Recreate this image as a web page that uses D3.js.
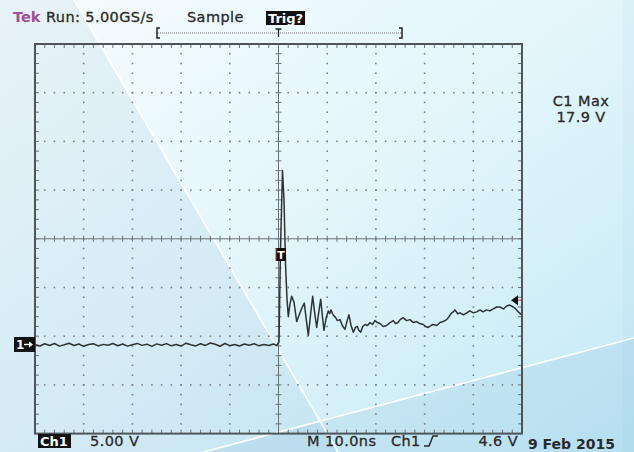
<!DOCTYPE html>
<html lang="en">
<head>
<meta charset="utf-8">
<title>Tek scope capture</title>
<script src="https://cdn.jsdelivr.net/npm/d3@7"></script>
<style>
  body { margin: 0; background: #eef9fc; }
  text { font-family: "DejaVu Sans", sans-serif; fill: #2a2a2a; }
  .hdr { font-size: 14.5px; letter-spacing: 0.4px; stroke: #2a2a2a; stroke-width: 0.3px; }
  .inv { fill: #fff; font-weight: bold; }
</style>
</head>
<body>
<svg id="scope" width="634" height="452"></svg>
<script>
// settings shown on screen
var voltsPerDiv = 5;
var nsPerDiv = 10;
var groundDiv = -2.18;     // ground marker, divisions from centre
var trigLevel = 4.6;       // V
var maxLabel = 17.9;       // V

// ch1 trace before the trigger [ns, V]
var baseline = [[-50,0.05],[-49,-0.1],[-48,0.12],[-47,-0.05],[-46,0.15],[-45,-0.12],[-44,0.02],[-43,0.18],
  [-42,-0.06],[-41,0.1],[-40,-0.14],[-39,0.04],[-38,0.13],[-37,-0.1],[-36,0.06],[-35,-0.03],[-34,0.15],
  [-33,-0.08],[-32,0.1],[-31,-0.12],[-30,0.03],[-29,0.16],[-28,-0.04],[-27,0.08],[-26,-0.15],[-25,0.11],
  [-24,-0.02],[-23,0.14],[-22,-0.09],[-21,0.05],[-20,-0.11],[-19,0.18],[-18,0.02],[-17,-0.1],[-16,0.13],
  [-15,-0.05],[-14,0.2],[-13,0.08],[-12,-0.13],[-11,0.15],[-10,-0.07],[-9,0.04],[-8,-0.11],[-7,0.1],
  [-6,-0.03],[-5,0.12],[-4,-0.09],[-3,0.05],[-2,-0.06],[-1,0.1],[-0.4,-0.05]];

// ch1 trace after the trigger [ns, V]
var pulse = [[0.1,0.3],[0.41,9.8],[0.82,17.9],[1.13,14.9],[1.44,8.3],[1.75,4.7],[2.01,2.9],[2.35,4.2],
  [2.71,5.0],[3.18,4.4],[3.74,2.4],[4.41,3.3],[4.9,3.9],[5.3,4.3],[5.7,2.6],[6.12,1.0],[6.6,3.2],[7.02,5.0],
  [7.4,3.4],[7.84,1.8],[8.25,3.3],[8.66,4.7],[9.0,3.0],[9.34,1.5],[9.8,2.8],[10.22,3.5],[10.5,3.2],
  [10.78,3.6],[11.2,3.1],[11.6,2.9],[12.1,2.5],[12.63,2.6],[13.1,2.0],[13.65,1.6],[14.1,2.5],[14.47,3.1],
  [14.9,2.0],[15.36,1.3],[15.8,1.8],[16.18,1.9],[16.5,1.5],[16.88,1.3],[17.3,1.9],[17.76,2.1],[18.3,2.0],
  [18.79,2.3],[19.3,2.1],[19.81,2.5],[20.3,2.3],[20.84,2.2],[21.5,1.9],[22.21,2.0],[22.9,2.3],[23.57,2.5],
  [24.0,2.2],[24.53,2.3],[25.0,2.6],[25.56,2.8],[26.3,2.5],[27.0,2.6],[27.7,2.3],[28.37,2.4],[29.0,2.2],
  [29.73,2.1],[30.2,1.9],[30.75,1.8],[31.3,2.0],[31.78,2.1],[32.5,2.0],[33.16,2.3],[33.8,2.4],[34.53,2.6],
  [35.0,2.9],[35.56,3.3],[35.9,3.4],[36.24,3.6],[36.8,3.2],[37.26,3.3],[38.0,3.1],[38.64,3.3],[39.3,3.5],
  [40.0,3.3],[40.7,3.4],[41.37,3.6],[42.0,3.4],[42.74,3.6],[43.4,3.5],[44.1,3.7],[44.8,3.9],[45.47,3.9],
  [46.2,3.7],[46.85,4.0],[47.5,4.1],[48.2,3.9],[48.7,3.7],[49.23,3.4],[49.93,3.1]];

var svg = d3.select('#scope');
var W = 634, H = 452;
var gLeft = 35, gRight = 522, gTop = 44, gBottom = 433.6;

// background glare
var defs = svg.append('defs');
var bg = defs.append('linearGradient').attr('id','bg')
  .attr('x1','0').attr('y1','0').attr('x2','1').attr('y2','1');
bg.append('stop').attr('offset','0').attr('stop-color','#f7fdfe');
bg.append('stop').attr('offset','0.5').attr('stop-color','#e2f5fb');
bg.append('stop').attr('offset','1').attr('stop-color','#c3e9f6');
svg.append('rect').attr('width',W).attr('height',H).attr('fill','url(#bg)');

svg.append('polygon').attr('points','0,0 74,0 338,452 0,452')
  .attr('fill','rgb(40,110,165)').attr('opacity',0.07);
svg.append('polygon').attr('points','200,453 634,338 634,452')
  .attr('fill','rgb(40,120,175)').attr('opacity',0.08);
svg.append('rect').attr('x',623).attr('y',0).attr('width',11).attr('height',H)
  .attr('fill','rgb(40,120,175)').attr('opacity',0.03);
svg.append('line').attr('x1',74).attr('y1',0).attr('x2',338).attr('y2',452)
  .attr('stroke','#fff').attr('stroke-width',1.6);
svg.append('line').attr('x1',200).attr('y1',453).attr('x2',634).attr('y2',338)
  .attr('stroke','#fff').attr('stroke-width',1.6);

// scales
var gx = d3.scaleLinear().domain([0,10]).range([gLeft,gRight]);
var gy = d3.scaleLinear().domain([0,8]).range([gTop,gBottom]);
var x = d3.scaleLinear().domain([-5*nsPerDiv, 5*nsPerDiv]).range([gLeft,gRight]);
var y = d3.scaleLinear()
  .domain([(-4 - groundDiv)*voltsPerDiv, (4 - groundDiv)*voltsPerDiv])
  .range([gBottom,gTop]);

// graticule
var grat = svg.append('g');
var dots = [];
for (var i = 1; i < 10; i++) {
  if (i === 5) continue;
  for (var k = 1; k < 40; k++) dots.push([gx(i), gy(k/5)]);
}
for (var j = 1; j < 8; j++) {
  if (j === 4) continue;
  for (var k = 1; k < 50; k++) dots.push([gx(k/5), gy(j)]);
}
grat.selectAll('rect.dot').data(dots).enter().append('rect')
  .attr('class','dot')
  .attr('x', function(d){ return d[0]-0.8; })
  .attr('y', function(d){ return d[1]-0.8; })
  .attr('width',1.6).attr('height',1.6)
  .attr('fill','#7a8288');

// centre cross with ticks
grat.append('line').attr('x1',gLeft).attr('x2',gRight).attr('y1',gy(4)).attr('y2',gy(4))
  .attr('stroke','#6b7378').attr('stroke-width',1);
grat.append('line').attr('x1',gx(5)).attr('x2',gx(5)).attr('y1',gTop).attr('y2',gBottom)
  .attr('stroke','#6b7378').attr('stroke-width',1);
var tk = [];
for (var k = 1; k < 50; k++) {
  tk.push([gx(k/5), gy(4)-3, gx(k/5), gy(4)+3]);
  tk.push([gx(k/5), gTop, gx(k/5), gTop+4]);
  tk.push([gx(k/5), gBottom, gx(k/5), gBottom-4]);
}
for (var k = 1; k < 40; k++) {
  tk.push([gx(5)-3, gy(k/5), gx(5)+3, gy(k/5)]);
  tk.push([gLeft, gy(k/5), gLeft+4, gy(k/5)]);
  tk.push([gRight, gy(k/5), gRight-4, gy(k/5)]);
}
grat.selectAll('line.tk').data(tk).enter().append('line')
  .attr('class','tk')
  .attr('x1',function(d){return d[0];}).attr('y1',function(d){return d[1];})
  .attr('x2',function(d){return d[2];}).attr('y2',function(d){return d[3];})
  .attr('stroke','#6b7378').attr('stroke-width',1);
grat.append('rect').attr('x',gLeft).attr('y',gTop)
  .attr('width',gRight-gLeft).attr('height',gBottom-gTop)
  .attr('fill','none').attr('stroke','#4e5559').attr('stroke-width',2);

// trace
var line = d3.line().x(function(d){ return x(d[0]); }).y(function(d){ return y(d[1]); });
svg.append('path').datum(baseline.concat(pulse))
  .attr('d', line).attr('fill','none')
  .attr('stroke','#2e3335').attr('stroke-width',1.5).attr('stroke-linejoin','round');

// ground marker
var g0 = y(0);
svg.append('rect').attr('x',14).attr('y',g0-8).attr('width',21).attr('height',15).attr('fill','#111');
svg.append('text').attr('class','inv').attr('x',16).attr('y',g0+4.5).style('font-size','12px').text('1');
svg.append('line').attr('x1',24).attr('x2',31).attr('y1',g0-0.5).attr('y2',g0-0.5)
  .attr('stroke','#fff').attr('stroke-width',1.4);
svg.append('path').attr('d','M29,'+(g0-3.5)+' L33,'+(g0-0.5)+' L29,'+(g0+2.5)).attr('fill','#fff');

// trigger level arrow
var tl = y(trigLevel);
svg.append('path').attr('d','M511,'+tl+' L518,'+(tl-5)+' L518,'+(tl+5)+'Z').attr('fill','#111');
svg.append('line').attr('x1',518).attr('x2',522).attr('y1',tl).attr('y2',tl)
  .attr('stroke','#c0392b').attr('stroke-width',1);

// trigger point box on screen
svg.append('rect').attr('x',x(0)-2.5).attr('y',248).attr('width',10).attr('height',13).attr('fill','#111');
svg.append('line').attr('x1',x(0)-2.5).attr('x2',x(0)-2.5).attr('y1',248).attr('y2',261)
  .attr('stroke','#c0392b').attr('stroke-width',1);
svg.append('text').attr('class','inv').attr('x',x(0)+2.5).attr('y',259)
  .attr('text-anchor','middle').style('font-size','11px').text('T');

// record bracket
svg.append('line').attr('x1',158).attr('x2',401).attr('y1',33).attr('y2',33)
  .attr('stroke','#777').attr('stroke-width',1).attr('stroke-dasharray','1,1');
svg.append('path').attr('d','M160,28 L157,28 L157,38 L160,38').attr('fill','none')
  .attr('stroke','#222').attr('stroke-width',1.5);
svg.append('path').attr('d','M399,28 L402,28 L402,38 L399,38').attr('fill','none')
  .attr('stroke','#222').attr('stroke-width',1.5);
svg.append('path').attr('d','M'+(x(0)-3)+',29 L'+(x(0)+3)+',29 M'+x(0)+',29 L'+x(0)+',37')
  .attr('stroke','#222').attr('stroke-width',1.3);

// header
svg.append('text').attr('x',13).attr('y',22).style('font-size','14.5px')
  .style('fill','#a0509b').style('font-weight','bold').text('Tek');
svg.append('text').attr('class','hdr').attr('x',46).attr('y',22).text('Run: 5.00GS/s');
svg.append('text').attr('class','hdr').attr('x',187).attr('y',22).text('Sample');
svg.append('rect').attr('x',266).attr('y',11).attr('width',39).attr('height',14).attr('fill','#111');
svg.append('text').attr('class','inv').attr('x',268).attr('y',23).style('font-size','13px').text('Trig?');

// measurement
svg.append('text').attr('class','hdr').attr('x',581).attr('y',106).attr('text-anchor','middle').text('C1 Max');
svg.append('text').attr('class','hdr').attr('x',581).attr('y',122).attr('text-anchor','middle')
  .text(maxLabel.toFixed(1) + ' V');

// footer
svg.append('rect').attr('x',38).attr('y',434).attr('width',33).attr('height',14).attr('fill','#111');
svg.append('text').attr('class','inv').attr('x',40).attr('y',446).style('font-size','13px').text('Ch1');
svg.append('text').attr('class','hdr').attr('x',90).attr('y',446).text(voltsPerDiv.toFixed(2) + ' V');
svg.append('text').attr('class','hdr').attr('x',307).attr('y',446).text('M ' + nsPerDiv.toFixed(1) + 'ns');
svg.append('text').attr('class','hdr').attr('x',391).attr('y',446).text('Ch1');
svg.append('path').attr('d','M424,446 L429,446 L433,436 L438,436').attr('fill','none')
  .attr('stroke','#2a2a2a').attr('stroke-width',1.5);
svg.append('text').attr('class','hdr').attr('x',518).attr('y',446).attr('text-anchor','end')
  .text(trigLevel.toFixed(1) + ' V');
svg.append('text').attr('x',528).attr('y',449).style('font-size','14px').style('font-weight','bold')
  .text('9 Feb 2015');
</script>
</body>
</html>
